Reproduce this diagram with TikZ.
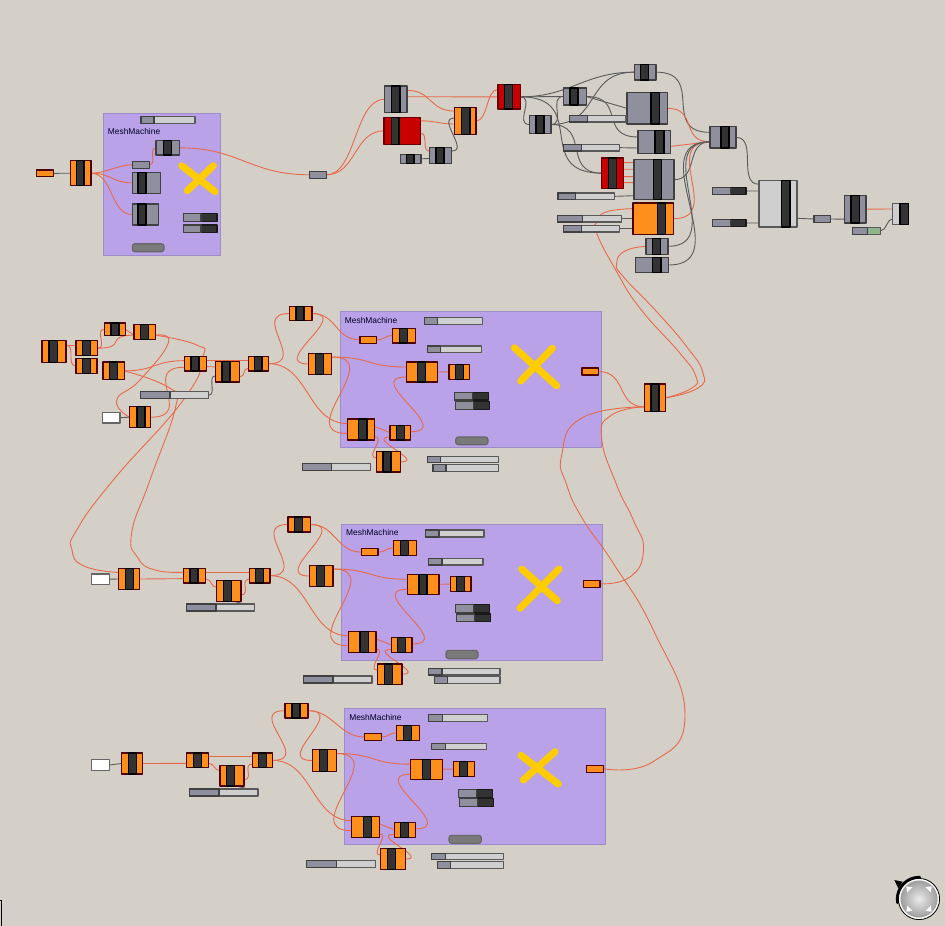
\documentclass[tikz,border=0pt]{standalone}
\usepackage{fontspec}
\setmainfont{Liberation Sans}
\definecolor{canvas}{HTML}{D4D0C8}
\definecolor{panelfill}{HTML}{B9A2E8}
\definecolor{panelline}{HTML}{9C8CC8}
\definecolor{gorange}{HTML}{FF8F1C}
\definecolor{ggrey}{HTML}{8F8F9D}
\definecolor{glight}{HTML}{CFCFCF}
\definecolor{gred}{HTML}{C80000}
\definecolor{ggreen}{HTML}{8FB58F}
\definecolor{wirered}{HTML}{E8694A}
\definecolor{wiredark}{HTML}{5A5A5A}
\definecolor{markyellow}{HTML}{FFCC00}
\pgfdeclarelayer{panels}
\pgfdeclarelayer{wires}
\pgfsetlayers{panels,wires,main}
\tikzset{
  box/.style={rectangle,inner sep=0pt,outer sep=0pt,line width=1.1pt},
  greybox/.style={box,fill=ggrey,draw=black!75},
  orangebox/.style={box,fill=gorange,draw=black!70!red},
  redbox/.style={box,fill=gred,draw=black!60!red},
  lightbox/.style={box,fill=glight,draw=black!65},
  whitebox/.style={box,fill=white,draw=black!60},
  greenbox/.style={box,fill=ggreen,draw=black!65},
  darkbox/.style={box,fill=black!80,draw=black!90},
  barbox/.style={box,fill=black!80,draw=black},
  pill/.style={box,fill=black!52,draw=black!60,rounded corners=2.5pt},
  panelbox/.style={box,fill=panelfill,draw=panelline,line width=1pt},
  title/.style={inner sep=0pt,anchor=west,font=\fontsize{8.4}{10}\selectfont,text=black!85!blue},
  redw/.style={draw=wirered,line width=.9pt},
  darkw/.style={draw=wiredark,line width=.9pt},
  thru/.style={smooth,tension=.85},
  xmark/.style={draw=markyellow,line width=7pt},
  wire/.style={to path={.. controls +(#1,0) and +(-#1,0) .. (\tikztotarget)}}
}
% name, style, left, right, top, bottom, bar left, bar right
\newcommand{\comp}[8]{
  \node[#2,minimum width={#4pt-#3pt},minimum height={#6pt-#5pt}] (#1) at ({(#3+#4)/2},{(#5+#6)/2}) {};
  \node[barbox,minimum width={#8pt-#7pt},minimum height={#6pt-#5pt}] (#1bar) at ({(#7+#8)/2},{(#5+#6)/2}) {};
}
% name, style of right part, left, split, right, top, bottom
\newcommand{\twopart}[7]{
  \node[#2,minimum width={#5pt-#3pt},minimum height={#7pt-#6pt}] (#1) at ({(#3+#5)/2},{(#6+#7)/2}) {};
  \node[greybox,minimum width={#4pt-#3pt},minimum height={#7pt-#6pt}] (#1left) at ({(#3+#4)/2},{(#6+#7)/2}) {};
}
% name, style, left, right, top, bottom
\newcommand{\plainbox}[6]{
  \node[#2,minimum width={#4pt-#3pt},minimum height={#6pt-#5pt}] (#1) at ({(#3+#4)/2},{(#5+#6)/2}) {};
}
\begin{document}
\begin{tikzpicture}[line cap=round,line join=round,x=1pt,y=-1pt]
  \useasboundingbox (0,0) rectangle (945,926);
  \begin{pgfonlayer}{panels}
    \fill[canvas] (0,0) rectangle (945,926);
    \plainbox{gpanel}{panelbox}{103.3}{220}{113.3}{255}
  \end{pgfonlayer}

  % top left machine
  \node[title] (gtitle) at (107.7,131.7) {MeshMachine};
  \plainbox{gparam}{orangebox}{36.7}{53.3}{170}{176.7}
  \comp{gmain}{orangebox}{70.3}{91}{160.7}{185.7}{76.3}{84}
  \plainbox{gsmall}{greybox}{132.7}{149.3}{161.3}{168.3}
  \comp{gtop}{greybox}{156}{179.7}{140.7}{155}{163.7}{171.7}
  \comp{gbiga}{greybox}{132.3}{160.7}{172.3}{193.3}{138}{146}
  \comp{gbigb}{greybox}{132.3}{158.3}{204}{225}{138}{146}
  \twopart{gslider}{lightbox}{141}{154}{195}{116.3}{123.3}
  \twopart{gdarka}{darkbox}{183.3}{201}{217}{213.7}{221.7}
  \twopart{gdarkb}{darkbox}{183.3}{201}{217}{225}{232.7}
  \plainbox{gpill}{pill}{132.3}{164}{243.7}{251.7}
  \plainbox{gout}{greybox}{309.7}{326.3}{171.3}{178.3}
  \draw[xmark] (181.7,165.7) -- (215,191.7);
  \draw[xmark] (213.3,165.7) -- (187.3,190.7);

  % top centre
  \comp{ca}{greybox}{384.3}{407}{86}{112.7}{391.3}{400}
  \comp{cb}{redbox}{384}{420.7}{117.3}{144.3}{391.3}{399}
  \comp{cc}{orangebox}{454.3}{476}{107.3}{134.7}{461.3}{470}
  \comp{cd}{greybox}{400.3}{421}{154.3}{163.3}{406.3}{414}
  \comp{ce}{greybox}{429.3}{451.7}{147.3}{163.7}{436}{444}
  \comp{cf}{redbox}{498}{520.3}{84.7}{109}{504.3}{512.3}
  \comp{cg}{greybox}{529.3}{551}{115.3}{133.7}{536}{544}
  \comp{ch}{greybox}{563.3}{586.3}{88}{105}{570}{578}
  \comp{ci}{greybox}{634.3}{656}{64.3}{80}{640.7}{648.7}
  \comp{cj}{greybox}{627}{667.7}{92.7}{124}{651}{659.3}
  \comp{ck}{greybox}{638}{670.3}{130.7}{153.3}{655}{664}
  \comp{cl}{redbox}{601.7}{623.3}{158}{188.3}{608.7}{616.7}
  \comp{cm}{greybox}{634}{674}{159.7}{199.7}{653.3}{661.7}
  \comp{cn}{orangebox}{633}{673.7}{203}{234.3}{657.3}{665.3}
  \comp{co}{greybox}{646}{668}{238.3}{254.3}{652.7}{660.7}
  \comp{cp}{greybox}{635.3}{668.7}{257.3}{272.7}{652.7}{661}
  \twopart{sa}{lightbox}{569.7}{587.7}{626}{115.3}{122}
  \twopart{sb}{lightbox}{563.3}{581.7}{619.7}{144.3}{151}
  \twopart{sc}{lightbox}{558}{575.7}{614.3}{193}{199.7}
  \twopart{sd}{lightbox}{557.7}{582.3}{621.3}{215.3}{222}
  \twopart{se}{lightbox}{563.3}{581.3}{619.7}{225.3}{232}

  % top right
  \comp{merge}{greybox}{710}{736}{126.7}{148}{721}{729}
  \comp{solid}{lightbox}{759}{797}{180.3}{227}{781.7}{790}
  \twopart{da}{darkbox}{712.7}{730.3}{746}{187.3}{194.7}
  \twopart{db}{darkbox}{712.3}{730.3}{746}{219.3}{226.7}
  \plainbox{ppipe}{greybox}{814}{830.7}{215.7}{222.3}
  \comp{prev}{greybox}{844.7}{866}{195.3}{223}{851}{859.7}
  \comp{last}{lightbox}{892.7}{908.7}{203.3}{224.3}{900}{908.7}
  \twopart{gsw}{greenbox}{852.3}{867.7}{880.7}{227.3}{234.3}

  % join to the right of the rows
  \comp{hub}{orangebox}{644.3}{665.7}{384}{411.7}{651}{659}

  % row one
  \comp{na}{orangebox}{42}{66}{340.7}{362.3}{49}{57.3}
  \comp{nb}{orangebox}{76}{97.7}{340.7}{355.7}{82.3}{90.3}
  \comp{nc}{orangebox}{76}{97}{358.7}{373.3}{82.3}{90.3}
  \comp{nd}{orangebox}{104.3}{125.3}{323}{335.7}{111}{119}
  \comp{ne}{orangebox}{134}{155.7}{324.7}{339.7}{140.3}{148.3}
  \comp{nf}{orangebox}{103}{124.7}{362}{379.7}{109.3}{117.3}
  \comp{ng}{orangebox}{184.3}{206.3}{356.3}{371}{191}{199}
  \comp{nh}{orangebox}{215.3}{239.7}{361.7}{382}{222}{230}
  \comp{alast}{orangebox}{248.3}{268.7}{356.3}{371}{254.3}{262}
  \twopart{ns}{lightbox}{140.3}{170}{208.7}{391.7}{398.7}
  \plainbox{nw}{whitebox}{102.3}{120}{412.3}{423}
  \comp{nj}{orangebox}{129.3}{150.7}{406.7}{427.7}{137}{145}
  \comp{atop}{orangebox}{289.3}{312}{306.3}{320.7}{296}{304}
  \comp{amid}{orangebox}{308.3}{331.7}{353.3}{374.7}{315.3}{323.3}

  % row two
  \plainbox{mw}{whitebox}{91.3}{109.7}{574}{584.3}
  \comp{ma}{orangebox}{118.3}{139.7}{568.3}{589.7}{125.7}{133.7}
  \comp{mb}{orangebox}{183.3}{205.7}{568.3}{583}{190}{198}
  \comp{mc}{orangebox}{216.7}{241}{580.7}{601.3}{223.3}{231.3}
  \twopart{ms}{lightbox}{186.3}{216}{254.7}{604}{611}
  \comp{blast}{orangebox}{249.3}{270}{568.3}{583}{255.3}{263.3}
  \comp{btop}{orangebox}{288}{310.7}{517}{532}{294.7}{302.7}
  \comp{bmid}{orangebox}{309.3}{333}{565.3}{586.7}{316.3}{324.3}

  % row three
  \plainbox{kw}{whitebox}{91.3}{109.7}{759.7}{770.3}
  \comp{ka}{orangebox}{121.3}{142.7}{753}{774}{128.7}{136.7}
  \comp{kb}{orangebox}{186.7}{208.7}{753}{767.7}{193.3}{201.3}
  \comp{kc}{orangebox}{220}{244}{765.3}{786}{226.3}{234.3}
  \twopart{ks}{lightbox}{189.3}{219}{258}{789}{796}
  \comp{clast}{orangebox}{252.3}{272.7}{753}{767.7}{258.3}{266.3}
  \comp{ctop}{orangebox}{285}{308}{703.3}{718}{292}{300}
  \comp{cmid}{orangebox}{312.3}{336.3}{749.7}{771.3}{319.3}{327.3}

  % the machine repeated on each row
  \foreach \g/\gx/\gy in {a/0/0,b/1.3/212.3,c/4.4/397.2}{
    \begin{scope}[shift={(\gx,\gy)}]
      \begin{pgfonlayer}{panels}
        \plainbox{\g panel}{panelbox}{340.3}{601.3}{311.7}{447.7}
      \end{pgfonlayer}
      \node[title] (\g title) at (344.7,320) {MeshMachine};
      \plainbox{\g pin}{orangebox}{360}{376.7}{336.3}{343.3}
      \comp{\g mesh}{orangebox}{392.3}{415.3}{328.3}{343}{399.3}{407.3}
      \comp{\g weld}{orangebox}{406.3}{437.7}{362}{382}{417.7}{425.7}
      \comp{\g clean}{orangebox}{449}{469.7}{364.3}{379.3}{455.3}{463.3}
      \comp{\g join}{orangebox}{347.3}{374.7}{419}{440}{358.7}{367}
      \comp{\g cap}{orangebox}{390}{410.7}{425.3}{440}{396.3}{404.3}
      \comp{\g edge}{orangebox}{376.3}{400.7}{451.7}{472}{383}{391}
      \plainbox{\g out}{orangebox}{582}{598.7}{368}{375}
      \twopart{\g sa}{lightbox}{424.3}{437.7}{482.7}{317.7}{324.7}
      \twopart{\g sb}{lightbox}{427.3}{440.7}{481.7}{346}{352.7}
      \twopart{\g ta}{darkbox}{454.3}{472.3}{488.3}{392.3}{400}
      \twopart{\g tb}{darkbox}{455.3}{473.3}{489.3}{401.7}{409.3}
      \twopart{\g sc}{lightbox}{302.3}{331.7}{370.7}{463.7}{470.7}
      \twopart{\g sd}{lightbox}{427.3}{440.7}{498.7}{456.3}{462.7}
      \twopart{\g se}{lightbox}{433}{446}{498.7}{464.3}{471.3}
    \end{scope}
    \begin{pgfonlayer}{wires}
      \draw[redw] (\g last.east) to[wire=40] (\g top.west);
      \draw[redw] (\g last.east) to[wire=40] ([yshift=6]\g join.west);
      \draw[redw] (\g top.east) to[wire=40] (\g mid.west);
      \draw[redw] (\g top.east) to[wire=25] (\g pin.west);
      \draw[redw] (\g pin.east) to[wire=8] (\g mesh.west);
      \draw[redw] ([yshift=7]\g mid.east) to[wire=40] ([yshift=5]\g weld.west);
      \draw[redw] ([yshift=7]\g mid.east) to[wire=55] ([yshift=-4]\g join.west);
      \draw[redw] ([yshift=3]\g join.east) -- ([yshift=0]\g cap.west);
      \draw[redw] ([yshift=1]\g cap.east) to[wire=45] ([yshift=-5]\g weld.west);
      \draw[redw] (\g weld.east) -- (\g clean.west);
      \draw[redw] ([yshift=-7]\g join.east) to[wire=12] ([yshift=4]\g edge.west);
      \draw[redw] (\g edge.east) to[wire=25] ([yshift=-4.5]\g cap.west);
    \end{pgfonlayer}
  }
  \plainbox{apill}{pill}{455.7}{488}{437}{444.7}
  \plainbox{bpill}{pill}{446}{478}{650.3}{658.7}
  \plainbox{cpill}{pill}{449}{481.3}{835.3}{843.3}
  \draw[xmark] (514.3,347.7) -- (556.7,385.7);
  \draw[xmark] (552.3,348.3) -- (520.7,381);
  \draw[xmark] (521.7,569) -- (557.3,600.7);
  \draw[xmark] (559,569) -- (520,608.3);
  \draw[xmark] (521,755.3) -- (558.3,784);
  \draw[xmark] (555,751.7) -- (523.3,780);

  \begin{pgfonlayer}{wires}
    % top left
    \draw[darkw] (gparam.east) -- (gmain.west);
    \draw[redw] (gmain.east) to[wire=15] (gsmall.west);
    \draw[redw] (gmain.east) to[wire=20] (gbiga.west);
    \draw[redw] (gmain.east) to[wire=22] (gbigb.west);
    \draw[redw] (gsmall.east) to[wire=8] (gtop.west);
    \draw[redw] (gtop.east) to[wire=60] (gout.west);
    \draw[redw] (gout.east) to[wire=30] (ca.west);
    \draw[redw] (gout.east) to[wire=30] (cb.west);
    % top centre
    \draw[redw] ([yshift=9]ca.east) to[wire=25] ([yshift=10]cc.west);
    \draw[redw] ([yshift=2.6]ca.east) -- (cf.west);
    \draw[redw] (cc.east) to[wire=12] ([yshift=7.5]cf.west);
    \draw[redw] ([yshift=10]cb.east) to[wire=15] ([yshift=-3]cc.west);
    \draw[redw] ([yshift=-2.5]cb.east) to[wire=8] ([yshift=4.5]ce.west);
    \draw[darkw] ([yshift=4.5]ce.east) to[wire=18] ([yshift=3]cc.west);
    \draw[darkw] (cd.east) -- ([yshift=-3]ce.west);
    \draw[darkw] (cf.east) -- (ch.west);
    \draw[darkw] (cf.east) to[wire=50] (ci.west);
    \draw[darkw] (cf.east) to[wire=15] (cg.west);
    \draw[darkw] (cf.east) to[wire=70] (cl.west);
    \draw[darkw] (cg.east) to[wire=50] (ci.west);
    \draw[darkw] (cg.east) to[wire=40] (cl.west);
    \draw[darkw] (cg.east) to[wire=15] (ch.west);
    \draw[darkw] (ch.east) -- (cj.west);
    \draw[darkw] (ch.east) to[wire=40] ([yshift=5]ck.west);
    \draw[darkw] (sa.east) -- ([yshift=-10]cj.west);
    \draw[darkw] (sb.east) -- ([yshift=-6]ck.west);
    \foreach \u/\v in {10.5/17,3.9/10.4,-3.5/3,-9.5/-3}{
      \draw[redw] ([yshift=\u]cl.east) -- ([yshift=\v]cm.west);
    }
    \draw[darkw] (sc.east) -- ([yshift=-16]cm.west);
    \draw[darkw] (sd.east) -- (cn.west);
    \draw[darkw] (se.east) -- ([yshift=-10]cn.west);
    % into the merge
    \draw[darkw] (ci.east) to[wire=50] ([yshift=5]merge.west);
    \draw[redw] (cj.east) to[wire=30] ([yshift=-4.4]merge.west);
    \draw[redw] ([yshift=-4.4]ck.east) -- ([yshift=-4.4]merge.west);
    \draw[darkw] (cm.east) to[wire=25] ([yshift=-4.4]merge.west);
    \draw[redw] (cn.east) to[wire=50] ([yshift=-4.4]merge.west);
    \draw[darkw] (co.east) to[wire=60] ([yshift=-4.4]merge.west);
    \draw[darkw] (cp.east) to[wire=70] ([yshift=-4.4]merge.west);
    % top right
    \draw[darkw] (merge.east) to[wire=22] ([yshift=19.4]solid.west);
    \draw[darkw] (da.east) -- ([yshift=12.7]solid.west);
    \draw[darkw] (db.east) -- ([yshift=-19.3]solid.west);
    \draw[darkw] ([yshift=-14.7]solid.east) -- (ppipe.west);
    \draw[darkw] (ppipe.east) -- ([yshift=-10]prev.west);
    \draw[redw] (prev.east) -- ([yshift=4.8]last.west);
    \draw[darkw] (gsw.east) to[wire=6] ([yshift=-5]last.west);
    % hub wires
    \draw[redw] (aout.east) to[wire=28] ([yshift=-9]hub.west);
    \draw[redw] plot[thru] coordinates {(bout.east) (630,577) (643.5,550) (633.3,520) (616.7,485) (601.7,438) (611.7,415) ([yshift=-9]hub.west)};
    \draw[redw] plot[thru] coordinates {(cout.east) (653,761.7) (685,715) (653.3,630) (613.3,563.3) (583.3,520) (566.7,485) (561.7,455) (581.7,418) ([yshift=-9]hub.west)};
    \draw[redw] plot[thru] coordinates {(hub.east) (698,388) (702.7,372) (686.7,346.7) (656.7,311.7) (623.3,276.7) (616.7,263.3) (625,251) (co.west)};
    \draw[redw] plot[thru] coordinates {(hub.east) (692,388) (695.7,376) (680,353.3) (640,308.3) (616.7,271.7) (596.7,233.3) (597,222) (606,212) ([yshift=10]cn.west)};
    % row one
    \draw[redw] ([yshift=6.5]na.east) -- ([yshift=3.2]nb.west);
    \draw[redw] ([yshift=6.5]na.east) to[wire=10] (nc.west);
    \draw[redw] (nb.east) to[wire=10] (nd.west);
    \draw[redw] (nb.east) to[wire=30] ([yshift=-3]ne.west);
    \draw[redw] (nd.east) -- ([yshift=-3]ne.west);
    \draw[redw] plot[thru] coordinates {([yshift=-3]ne.east) (168.3,343) (140,380) (116.7,400) (nj.west)};
    \draw[redw] plot[thru] coordinates {([yshift=-3]ne.east) (196.7,345) (202.7,358) (183.3,400) (113.3,480) (76.7,530) (72,550) (84,566) ([yshift=6.5]ma.west)};
    \draw[redw] plot[thru] coordinates {(nf.east) (170,388.3) (175.7,406.7) (150,480) (131.7,533) (138,558) (155,570) ([yshift=3.4]mb.west)};
    \draw[redw] (nf.east) to[wire=30] ([yshift=3]ng.west);
    \draw[redw] (nj.east) to[wire=45] ([yshift=-3.6]ng.west);
    \draw[darkw] (nw.east) -- (nj.west);
    \draw[redw] ([yshift=3]ng.east) -- ([yshift=3]alast.west);
    \draw[redw] ([yshift=-3]ng.east) -- ([yshift=5]nh.west);
    \draw[redw] ([yshift=-5]nh.east) to[wire=6] ([yshift=-4.6]alast.west);
    \draw[darkw] (ns.east) to[wire=8] ([yshift=-4]nh.west);
    % row two
    \draw[darkw] (mw.east) -- (ma.west);
    \draw[redw] (ma.east) -- ([yshift=-3]mb.west);
    \draw[redw] ([yshift=-3.3]mb.east) to[wire=6] ([yshift=3.7]mc.west);
    \draw[redw] ([yshift=3.4]mb.east) -- ([yshift=3.4]blast.west);
    \draw[redw] ([yshift=-4]mc.east) to[wire=10] ([yshift=-3.6]blast.west);
    \draw[darkw] (ms.east) to[wire=5] ([yshift=-5]mc.west);
    % row three
    \draw[darkw] (kw.east) -- (ka.west);
    \draw[redw] (ka.east) -- ([yshift=-3]kb.west);
    \draw[redw] ([yshift=-3]kb.east) to[wire=6] ([yshift=5]kc.west);
    \draw[redw] ([yshift=3.7]kb.east) -- ([yshift=3.7]clast.west);
    \draw[redw] ([yshift=-4]kc.east) to[wire=10] ([yshift=-3.7]clast.west);
    \draw[darkw] (ks.east) to[wire=5] ([yshift=-5]kc.west);
  \end{pgfonlayer}

  % navigation dial
  \shade[inner color=black!8,outer color=black!38] (919,899) circle (18.5);
  \draw[white,line width=1.4pt] (919,899) circle (19.5);
  \draw[black,line width=.8pt] (919,899) circle (20.6);
  \draw[black,line width=2.6pt] plot[domain=170:272,smooth,samples=15] ({919+21.8*cos(\x)},{899+21.8*sin(\x)});
  \fill[black] (894.3,880) -- (902.7,881.7) -- (898.3,888.3) -- cycle;
  \foreach \a in {45,135,225,315}{
    \fill[white] ({919+18*cos(\a)},{899+18*sin(\a)}) -- ({919+13.5*cos(\a-16)},{899+13.5*sin(\a-16)}) -- ({919+13.5*cos(\a+16)},{899+13.5*sin(\a+16)}) -- cycle;
  }
  \draw[black,line width=1pt] (0,900) -- (1.5,900) -- (1.5,926);
\end{tikzpicture}
\end{document}
